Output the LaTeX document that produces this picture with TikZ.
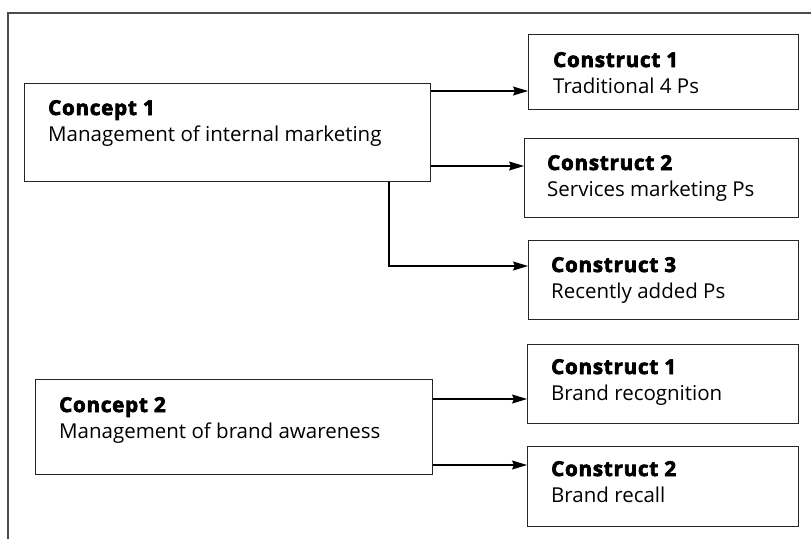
\documentclass[tikz,border=0pt]{standalone}
\usepackage{fontspec}
\setmainfont{Open Sans}
\newfontfamily\hdfont[BoldFeatures={FakeBold=3.5,LetterSpace=4}]{Open Sans}
\usetikzlibrary{arrows.meta}
\tikzset{
  box/.style={draw=black!85, line width=1.3pt, inner sep=0pt, anchor=north west},
  txt/.style={anchor=base west, align=left, inner sep=0pt, font=\fontsize{20.5}{26}\selectfont},
  arr/.style={line width=1.1pt, -{Stealth[length=15pt,width=9pt,inset=2pt]}},
}
\newcommand{\hd}[1]{{\hdfont\bfseries #1}}
\begin{document}
\begin{tikzpicture}[x=1pt,y=-1pt]
\useasboundingbox (0,0) rectangle (811,539);
% frame
\draw[line width=2pt, black!70] (811,13) -- (8,13) -- (8,539);
% concepts
\node[box, minimum width=406pt, minimum height=98pt] (cptA) at (24,83) {};
\node[txt] (cptAt) at ([shift={(24pt,-58pt)}]cptA.north west) {\hd{Concept 1}\\Management of internal marketing};
\node[box, minimum width=397pt, minimum height=95pt] (cptB) at (35,379) {};
\node[txt] (cptBt) at ([shift={(24pt,-59pt)}]cptB.north west) {\hd{Concept 2}\\Management of brand awareness};
% constructs
\node[box, minimum width=270pt, minimum height=75pt] (conA) at (528,34) {};
\node[txt] (conAt) at ([shift={(25pt,-59pt)}]conA.north west) {\hd{Construct 1}\\Traditional 4 Ps};
\node[box, minimum width=274pt, minimum height=79pt] (conB) at (524,138) {};
\node[txt] (conBt) at ([shift={(23pt,-58pt)}]conB.north west) {\hd{Construct 2}\\Services marketing Ps};
\node[box, minimum width=270pt, minimum height=79pt] (conC) at (528,240) {};
\node[txt] (conCt) at ([shift={(23pt,-58pt)}]conC.north west) {\hd{Construct 3}\\Recently added Ps};
\node[box, minimum width=271pt, minimum height=79pt] (conD) at (527,344) {};
\node[txt] (conDt) at ([shift={(24pt,-56pt)}]conD.north west) {\hd{Construct 1}\\Brand recognition};
\node[box, minimum width=271pt, minimum height=80pt] (conE) at (527,446) {};
\node[txt] (conEt) at ([shift={(24pt,-56pt)}]conE.north west) {\hd{Construct 2}\\Brand recall};
% arrows
\draw[arr] (cptA.east |- 0,91) -- (conA.west |- 0,91);
\draw[arr] (cptA.east |- 0,166) -- (conB.west |- 0,166);
\draw[arr] (cptA.south -| 389,0) -- (389,266) -- (conC.west |- 0,266);
\draw[arr] (cptB.east |- 0,399) -- (conD.west |- 0,399);
\draw[arr] (cptB.east |- 0,465) -- (conE.west |- 0,465);
\end{tikzpicture}
\end{document}
